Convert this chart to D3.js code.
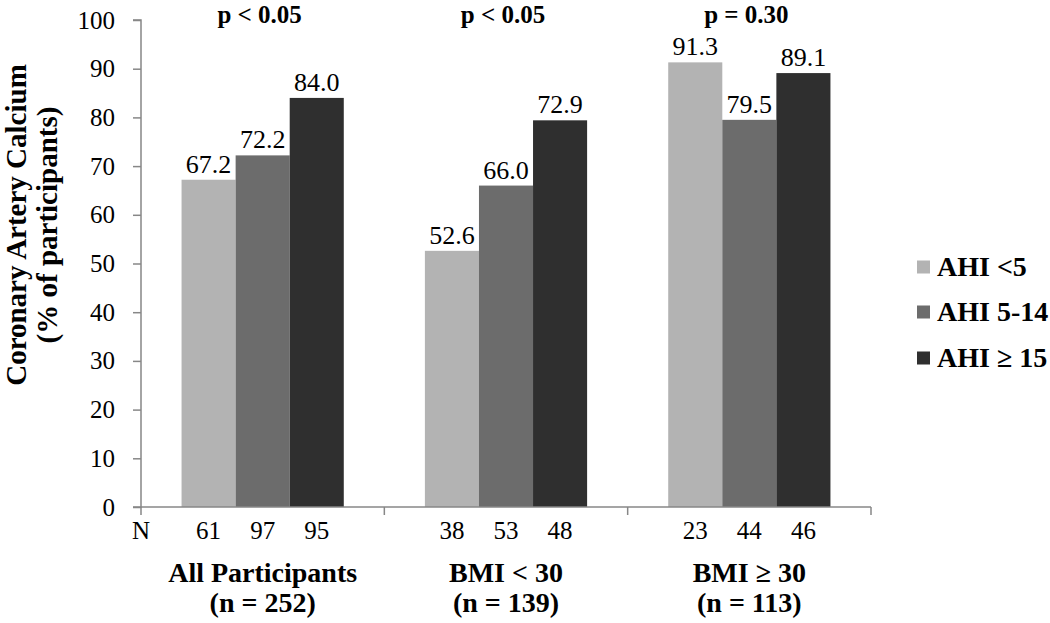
<!DOCTYPE html>
<html>
<head>
<meta charset="utf-8">
<script src="https://cdn.jsdelivr.net/npm/d3@7"></script>
<style>
  html, body { margin: 0; padding: 0; background: #fff; }
  svg { display: block; font-family: "Liberation Serif", "Times New Roman", serif; }
</style>
</head>
<body>
<svg id="chart" width="1050" height="623"></svg>
<script>
// ---- data ----
const groups = ["All Participants", "BMI < 30", "BMI \u2265 30"];
const groupN = ["(n = 252)", "(n = 139)", "(n = 113)"];
const pValues = ["p < 0.05", "p < 0.05", "p = 0.30"];
const series = ["AHI <5", "AHI 5-14", "AHI \u2265 15"];
const seriesColors = ["#b3b3b3", "#6c6c6c", "#2f2f2f"];
// bar heights as drawn in the figure
const barValues = [
  [67.2, 72.2, 84.0],
  [52.6, 66.0, 79.4],
  [91.3, 79.5, 89.1]
];
// printed data labels
const barLabels = [
  ["67.2", "72.2", "84.0"],
  ["52.6", "66.0", "72.9"],
  ["91.3", "79.5", "89.1"]
];
const counts = [
  [61, 97, 95],
  [38, 53, 48],
  [23, 44, 46]
];
const yTicks = [0, 10, 20, 30, 40, 50, 60, 70, 80, 90, 100];

// ---- layout ----
const svg = d3.select("#chart");
const mLeft = 141, mRight = 871, mTop = 20, mBottom = 507;
const axisColor = "#878787";

const y = d3.scaleLinear().domain([0, 100]).range([mBottom, mTop]);
const x0 = d3.scaleBand().domain(groups).range([mLeft, mRight]).padding(0);
const x1 = d3.scaleBand().domain(series).range([0, x0.bandwidth()])
  .paddingInner(0).paddingOuter(0.75);
const color = d3.scaleOrdinal().domain(series).range(seriesColors);

// bars
const g = svg.append("g");
groups.forEach((grp, gi) => {
  const gg = g.append("g").attr("transform", `translate(${x0(grp)},0)`);
  series.forEach((s, si) => {
    const v = barValues[gi][si];
    gg.append("rect")
      .attr("x", x1(s))
      .attr("y", y(v))
      .attr("width", x1.bandwidth())
      .attr("height", y(0) - y(v))
      .attr("fill", color(s));
    gg.append("text")
      .attr("x", x1(s) + x1.bandwidth() / 2)
      .attr("y", y(v) - 7)
      .attr("text-anchor", "middle")
      .attr("font-size", 26)
      .attr("fill", "#000")
      .text(barLabels[gi][si]);
    gg.append("text")
      .attr("x", x1(s) + x1.bandwidth() / 2)
      .attr("y", 539)
      .attr("text-anchor", "middle")
      .attr("font-size", 25)
      .attr("fill", "#000")
      .text(counts[gi][si]);
  });
  // p-values
  svg.append("text")
    .attr("x", x0(grp) + x0.bandwidth() / 2 - 3)
    .attr("y", 23)
    .attr("text-anchor", "middle")
    .attr("font-size", 25)
    .attr("font-weight", "bold")
    .text(pValues[gi]);
  // category labels
  svg.append("text")
    .attr("x", x0(grp) + x0.bandwidth() / 2)
    .attr("y", 582)
    .attr("text-anchor", "middle")
    .attr("font-size", 28)
    .attr("font-weight", "bold")
    .text(grp);
  svg.append("text")
    .attr("x", x0(grp) + x0.bandwidth() / 2)
    .attr("y", 612)
    .attr("text-anchor", "middle")
    .attr("font-size", 28)
    .attr("font-weight", "bold")
    .text(groupN[gi]);
});

// "N" label
svg.append("text")
  .attr("x", mLeft)
  .attr("y", 539)
  .attr("text-anchor", "middle")
  .attr("font-size", 25)
  .text("N");

// y axis
const yAxis = d3.axisLeft(y).tickValues(yTicks).tickSize(8).tickPadding(18)
  .tickFormat(d3.format("d"));
const ya = svg.append("g").attr("transform", `translate(${mLeft},0)`).call(yAxis);
ya.select(".domain").attr("stroke", axisColor).attr("stroke-width", 1.5)
  .attr("d", `M-8,${mTop}H0V${mBottom}H-8`);
ya.selectAll(".tick line").attr("stroke", axisColor).attr("stroke-width", 1.5);
ya.selectAll(".tick text").attr("font-size", 25).attr("fill", "#000")
  .attr("font-family", "Liberation Serif, Times New Roman, serif");

// x axis with category boundary ticks
const boundaries = groups.map(d => x0(d)).concat([mRight]);
const xa = svg.append("g");
xa.append("line").attr("x1", mLeft).attr("x2", mRight).attr("y1", mBottom).attr("y2", mBottom)
  .attr("stroke", axisColor).attr("stroke-width", 1.5);
xa.selectAll("line.tk").data(boundaries).join("line").attr("class", "tk")
  .attr("x1", d => d).attr("x2", d => d).attr("y1", mBottom).attr("y2", mBottom + 8)
  .attr("stroke", axisColor).attr("stroke-width", 1.5);

// y-axis title
const yt = svg.append("g").attr("transform", "translate(26,225) rotate(-90)");
yt.append("text").attr("text-anchor", "middle").attr("font-size", 29)
  .attr("font-weight", "bold").attr("y", 0).text("Coronary Artery Calcium");
yt.append("text").attr("text-anchor", "middle").attr("font-size", 29)
  .attr("font-weight", "bold").attr("y", 31).text("(% of participants)");

// legend
const legendY = [267, 312, 358];
const lg = svg.append("g");
series.forEach((s, i) => {
  lg.append("rect").attr("x", 917).attr("y", legendY[i] - 6.5)
    .attr("width", 13).attr("height", 13).attr("fill", color(s));
  lg.append("text").attr("x", 937).attr("y", legendY[i] + 9)
    .attr("font-size", 28).attr("font-weight", "bold").text(s);
});
</script>
</body>
</html>
